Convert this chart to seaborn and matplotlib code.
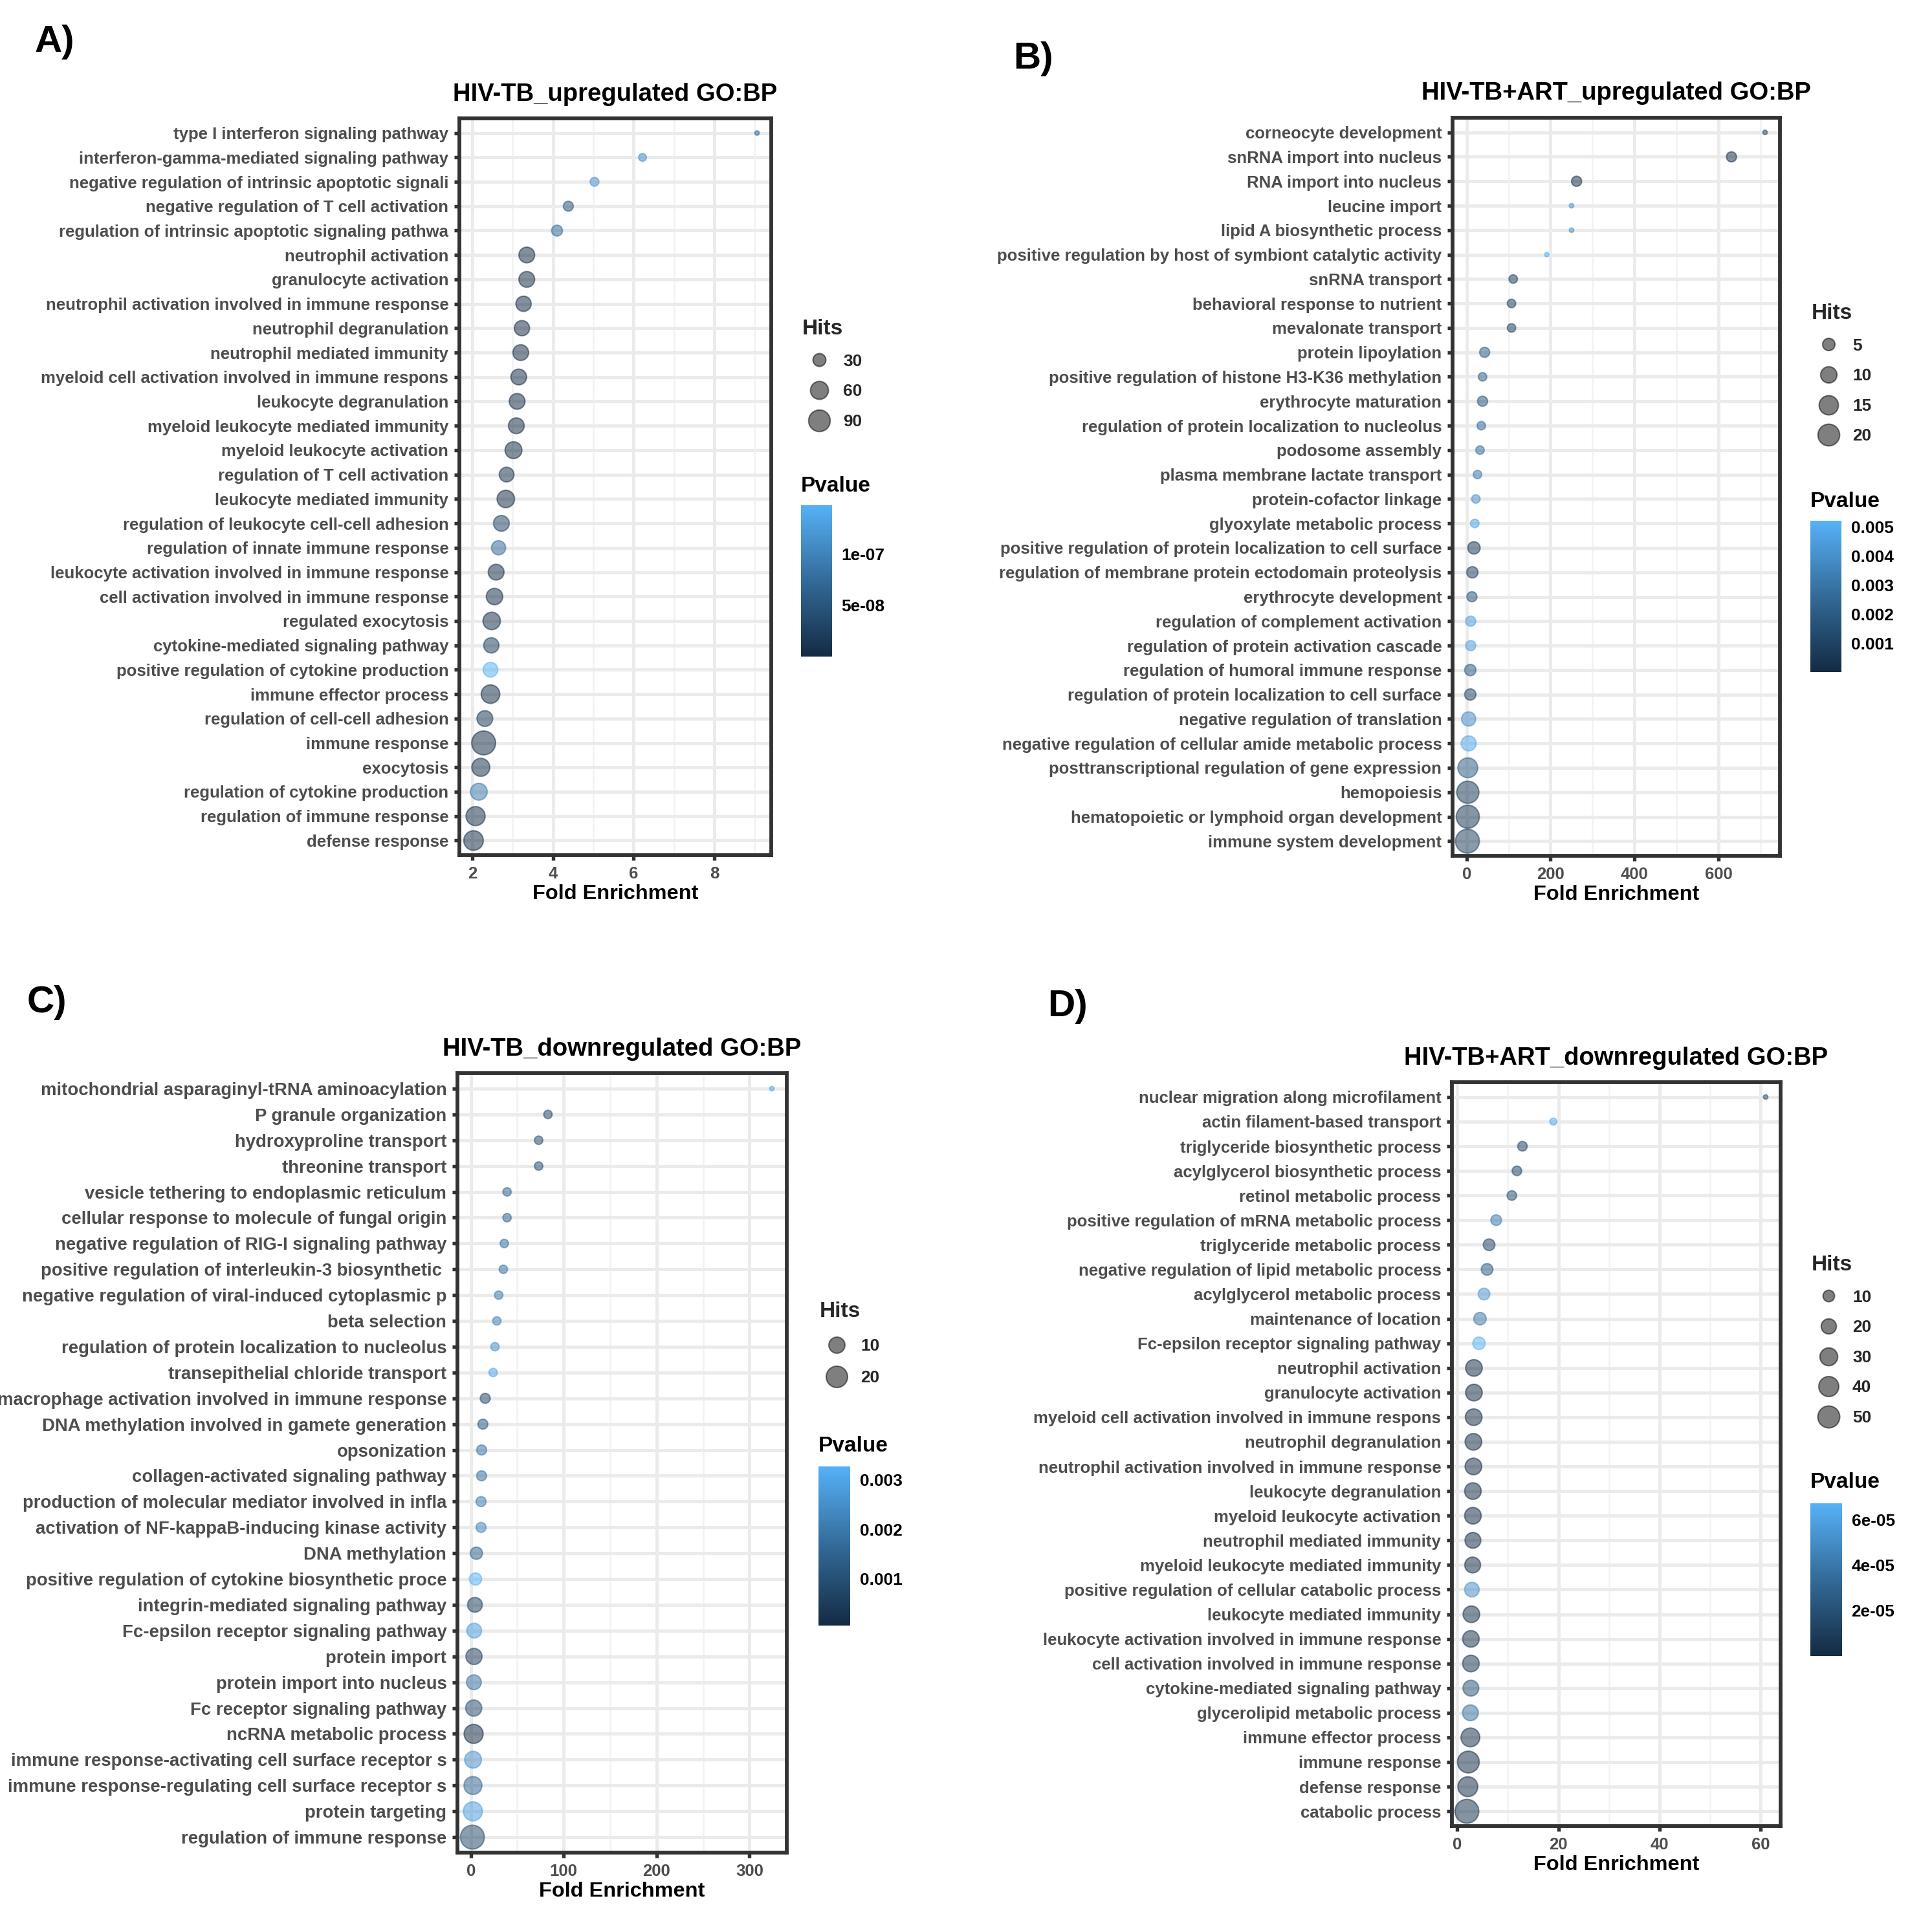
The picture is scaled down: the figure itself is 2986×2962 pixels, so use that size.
import numpy as np
import pandas as pd
import matplotlib
matplotlib.use('Agg')
import matplotlib.pyplot as plt
import seaborn as sns
from matplotlib.colors import LinearSegmentedColormap, Normalize
from matplotlib.lines import Line2D
from matplotlib.ticker import FixedLocator

sns.set_theme(style='white')
plt.rcParams['font.family'] = ['Liberation Sans', 'DejaVu Sans']
plt.rcParams['font.weight'] = 'bold'

# ---------------- data ----------------
a_terms = ['type I interferon signaling pathway', 'interferon-gamma-mediated signaling pathway',
           'negative regulation of intrinsic apoptotic signali', 'negative regulation of T cell activation',
           'regulation of intrinsic apoptotic signaling pathwa', 'neutrophil activation',
           'granulocyte activation', 'neutrophil activation involved in immune response',
           'neutrophil degranulation', 'neutrophil mediated immunity',
           'myeloid cell activation involved in immune respons', 'leukocyte degranulation',
           'myeloid leukocyte mediated immunity', 'myeloid leukocyte activation',
           'regulation of T cell activation', 'leukocyte mediated immunity',
           'regulation of leukocyte cell-cell adhesion', 'regulation of innate immune response',
           'leukocyte activation involved in immune response', 'cell activation involved in immune response',
           'regulated exocytosis', 'cytokine-mediated signaling pathway',
           'positive regulation of cytokine production', 'immune effector process',
           'regulation of cell-cell adhesion', 'immune response', 'exocytosis',
           'regulation of cytokine production', 'regulation of immune response', 'defense response']
a_fold = [9.06, 6.22, 5.03, 4.38, 4.10, 3.35, 3.35, 3.27, 3.23, 3.20, 3.15, 3.11, 3.09, 3.02, 2.85,
          2.83, 2.72, 2.65, 2.59, 2.55, 2.48, 2.47, 2.45, 2.45, 2.31, 2.28, 2.21, 2.16, 2.08, 2.03]
a_hits = [11, 14, 16, 19, 22, 45, 45, 42, 42, 45, 45, 45, 45, 52, 39, 56, 45, 36, 45, 49,
          56, 42, 39, 64, 45, 112, 60, 52, 68, 72]
a_pval = [7.0e-8, 1.1e-7, 1.15e-7, 4.5e-8, 7.0e-8, 1e-11, 1e-11, 2e-11, 2e-11, 2e-11,
          3e-11, 4e-11, 4e-11, 4e-11, 1.0e-8, 1e-10, 2.5e-8, 7.0e-8, 2e-9, 3e-9,
          3e-9, 2.0e-8, 1.48e-7, 1e-9, 1.5e-8, 1e-13, 5e-9, 9.0e-8, 3e-9, 2e-10]

b_terms = ['corneocyte development', 'snRNA import into nucleus', 'RNA import into nucleus',
           'leucine import', 'lipid A biosynthetic process',
           'positive regulation by host of symbiont catalytic activity', 'snRNA transport',
           'behavioral response to nutrient', 'mevalonate transport', 'protein lipoylation',
           'positive regulation of histone H3-K36 methylation', 'erythrocyte maturation',
           'regulation of protein localization to nucleolus', 'podosome assembly',
           'plasma membrane lactate transport', 'protein-cofactor linkage', 'glyoxylate metabolic process',
           'positive regulation of protein localization to cell surface',
           'regulation of membrane protein ectodomain proteolysis', 'erythrocyte development',
           'regulation of complement activation', 'regulation of protein activation cascade',
           'regulation of humoral immune response', 'regulation of protein localization to cell surface',
           'negative regulation of translation', 'negative regulation of cellular amide metabolic process',
           'posttranscriptional regulation of gene expression', 'hemopoiesis',
           'hematopoietic or lymphoid organ development', 'immune system development']
b_fold = [711, 631, 262, 250, 250, 191, 111, 107, 107, 43, 38, 38, 35, 32, 26, 22, 19.5, 17.5,
          13.7, 12.7, 9.8, 9.8, 8.8, 8.8, 4.9, 4.9, 2.9, 2.9, 2.9, 2.0]
b_hits = [1, 3, 3, 1, 1, 1, 2, 2, 2, 3, 2, 3, 2, 2, 2, 2, 2, 5, 4, 3, 3, 3, 4, 4, 7, 8, 16, 21, 23, 25]
b_pval = [0.0012, 0.0002, 0.00002, 0.0040, 0.0040, 0.00522, 0.0008, 0.0008, 0.0008, 0.0020,
          0.0022, 0.0016, 0.0025, 0.0027, 0.0032, 0.0040, 0.0046, 0.0006, 0.0008, 0.0016,
          0.0045, 0.0046, 0.0018, 0.0010, 0.0038, 0.0048, 0.0020, 0.0006, 0.0005, 0.0008]

c_terms = ['mitochondrial asparaginyl-tRNA aminoacylation', 'P granule organization',
           'hydroxyproline transport', 'threonine transport', 'vesicle tethering to endoplasmic reticulum',
           'cellular response to molecule of fungal origin', 'negative regulation of RIG-I signaling pathway',
           'positive regulation of interleukin-3 biosynthetic ',
           'negative regulation of viral-induced cytoplasmic p', 'beta selection',
           'regulation of protein localization to nucleolus', 'transepithelial chloride transport',
           'macrophage activation involved in immune response', 'DNA methylation involved in gamete generation',
           'opsonization', 'collagen-activated signaling pathway',
           'production of molecular mediator involved in infla',
           'activation of NF-kappaB-inducing kinase activity', 'DNA methylation',
           'positive regulation of cytokine biosynthetic proce', 'integrin-mediated signaling pathway',
           'Fc-epsilon receptor signaling pathway', 'protein import', 'protein import into nucleus',
           'Fc receptor signaling pathway', 'ncRNA metabolic process',
           'immune response-activating cell surface receptor s',
           'immune response-regulating cell surface receptor s', 'protein targeting',
           'regulation of immune response']
c_fold = [324, 83, 73, 73, 39, 39, 36, 35, 30, 28, 26, 24, 15.5, 13, 11.6, 11.6, 11, 11, 6, 5,
          4.4, 3.6, 3.4, 3.3, 3.1, 3.0, 2.4, 2.3, 2.2, 1.7]
c_hits = [1, 2, 2, 2, 2, 2, 2, 2, 2, 2, 2, 2, 3, 3, 3, 3, 3, 3, 5, 5, 8, 8, 10, 8, 10, 15, 11, 13, 15, 26]
c_pval = [0.0030, 0.0008, 0.0009, 0.0009, 0.0015, 0.0015, 0.0018, 0.0018, 0.0020, 0.0022,
          0.0026, 0.0030, 0.0008, 0.0012, 0.0018, 0.0018, 0.0020, 0.0022, 0.0014, 0.00327,
          0.0006, 0.0028, 0.0005, 0.0018, 0.0009, 0.00005, 0.0025, 0.0015, 0.0028, 0.0008]

d_terms = ['nuclear migration along microfilament', 'actin filament-based transport',
           'triglyceride biosynthetic process', 'acylglycerol biosynthetic process',
           'retinol metabolic process', 'positive regulation of mRNA metabolic process',
           'triglyceride metabolic process', 'negative regulation of lipid metabolic process',
           'acylglycerol metabolic process', 'maintenance of location',
           'Fc-epsilon receptor signaling pathway', 'neutrophil activation', 'granulocyte activation',
           'myeloid cell activation involved in immune respons', 'neutrophil degranulation',
           'neutrophil activation involved in immune response', 'leukocyte degranulation',
           'myeloid leukocyte activation', 'neutrophil mediated immunity',
           'myeloid leukocyte mediated immunity', 'positive regulation of cellular catabolic process',
           'leukocyte mediated immunity', 'leukocyte activation involved in immune response',
           'cell activation involved in immune response', 'cytokine-mediated signaling pathway',
           'glycerolipid metabolic process', 'immune effector process', 'immune response',
           'defense response', 'catabolic process']
d_fold = [61, 19, 12.9, 11.8, 10.8, 7.7, 6.3, 5.9, 5.3, 4.5, 4.3, 3.3, 3.3, 3.25, 3.2, 3.2, 3.1,
          3.1, 3.1, 3.05, 2.9, 2.8, 2.7, 2.7, 2.7, 2.6, 2.6, 2.2, 2.1, 1.9]
d_hits = [2, 3, 6, 6, 6, 8, 10, 10, 10, 12, 12, 25, 25, 25, 25, 25, 25, 25, 22, 22, 18, 25, 25, 25,
          22, 22, 34, 49, 39, 61]
d_pval = [2.0e-5, 6.4e-5, 1.2e-5, 1.3e-5, 1.8e-5, 4.0e-5, 1.2e-5, 2.4e-5, 5.4e-5, 4.0e-5,
          6.72e-5, 1e-8, 1e-8, 1e-8, 1e-8, 1e-8, 1e-8, 2e-8, 2e-8, 3e-8,
          5.0e-5, 2e-6, 4e-6, 5e-6, 2.0e-5, 3.6e-5, 3e-6, 1e-10, 5e-7, 3e-6]

# ---------------- layout (pixels) ----------------
DPI = 300
W, H = 2986, 2962
EDGE_LW = 0.5
DMIN, DMAX = 9.0, 39.0

cmap = LinearSegmentedColormap.from_list('gg', ['#132B43', '#336A98', '#56B1F7'])

fig = plt.figure(figsize=(W / DPI, H / DPI), dpi=DPI)
fig.patch.set_facecolor('white')


def size_area(v, vmin, vmax):
    t = (float(v) - vmin) / (vmax - vmin)
    d = DMIN + (DMAX - DMIN) * np.sqrt(max(t, 0.0))
    d = d - EDGE_LW * DPI / 72
    return (d * 72 / DPI) ** 2


def draw_panel(terms, fold, hits, pval, box, title, letter, letter_xy, xticks, xminor,
               breaks, leg_xy, cbar_box, pv_y, cticks, clabels, ylab_size=6.2, leg_space=0.86):
    left, top, right, bottom = box
    ax = fig.add_axes([left / W, 1 - bottom / H, (right - left) / W, (bottom - top) / H])
    df = pd.DataFrame({'Term': terms, 'Fold': fold, 'Hits': hits, 'Pvalue': pval})
    lo, hi = min(hits), max(hits)
    sizes = {h: size_area(h, lo, hi) for h in sorted(set(hits))}
    pnorm = (min(pval), max(pval))
    sns.scatterplot(data=df, x='Fold', y='Term', size='Hits', sizes=sizes, hue='Pvalue',
                    palette=cmap, hue_norm=pnorm, alpha=0.52, edgecolor='face',
                    linewidth=EDGE_LW, legend=False, ax=ax, zorder=3)
    n = len(terms)
    pad = 0.05 * (max(fold) - min(fold))
    ax.set_xlim(min(fold) - pad, max(fold) + pad)
    ax.set_ylim(n - 1 + 0.6, -0.6)
    ax.set_xticks(xticks)
    ax.xaxis.set_minor_locator(FixedLocator(xminor))
    ax.set_axisbelow(True)
    ax.grid(True, which='major', color='#EBEBEB', linewidth=1.2)
    ax.grid(True, which='minor', axis='x', color='#F2F2F2', linewidth=0.6)
    for s in ax.spines.values():
        s.set_color('#333333')
        s.set_linewidth(1.4)
    ax.tick_params(axis='both', which='major', length=2, width=1.3, color='#333333',
                   labelsize=6.2, labelcolor='#4D4D4D', pad=2, left=True, bottom=True)
    ax.tick_params(axis='y', labelsize=ylab_size)
    ax.tick_params(axis='x', which='minor', length=0)
    ax.set_ylabel('')
    ax.set_xlabel('Fold Enrichment', fontsize=7.8, fontweight='bold', color='black', labelpad=1)
    ax.set_title(title, fontsize=9.2, fontweight='bold', color='black', pad=6.6)
    fig.text(letter_xy[0] / W, 1 - letter_xy[1] / H, letter, fontsize=14, fontweight='bold',
             ha='left', va='center', color='black')

    handles = [Line2D([], [], ls='', marker='o', markersize=np.sqrt(size_area(b, lo, hi)),
                      markerfacecolor=(0, 0, 0, 0.5), markeredgecolor=(0, 0, 0, 0.5),
                      markeredgewidth=EDGE_LW) for b in breaks]
    fig.legend(handles, [str(b) for b in breaks], title='Hits', loc='upper left',
               bbox_to_anchor=(leg_xy[0] / W, 1 - leg_xy[1] / H), frameon=False,
               prop={'size': 6.3, 'weight': 'bold'},
               title_fontproperties={'size': 8, 'weight': 'bold'}, labelspacing=leg_space,
               handletextpad=0.4, borderpad=0, borderaxespad=0, alignment='left',
               handlelength=2.0)

    cl, ct, cr, cbm = cbar_box
    cax = fig.add_axes([cl / W, 1 - cbm / H, (cr - cl) / W, (cbm - ct) / H])
    sm = plt.cm.ScalarMappable(norm=Normalize(*pnorm), cmap=cmap)
    cb = fig.colorbar(sm, cax=cax)
    cb.outline.set_visible(False)
    cb.set_ticks(cticks)
    cb.set_ticklabels(clabels)
    cax.tick_params(axis='y', direction='in', length=2.4, width=0.5, color='white',
                    left=True, right=True, labelleft=False, labelright=True,
                    labelsize=6.3, labelcolor='black', pad=3.5)
    fig.text(cl / W, 1 - pv_y / H, 'Pvalue', fontsize=8, fontweight='bold', ha='left',
             va='center', color='black')
    return ax


draw_panel(a_terms, a_fold, a_hits, a_pval, (710, 183, 1192, 1322), 'HIV-TB_upregulated GO:BP',
           'A)', (54, 65), [2, 4, 6, 8], [3, 5, 7, 9], [30, 60, 90], (1240, 493),
           (1238, 781, 1286, 1015), 752, [5e-8, 1e-7], ['5e-08', '1e-07'])
draw_panel(b_terms, b_fold, b_hits, b_pval, (2245, 182, 2751, 1323), 'HIV-TB+ART_upregulated GO:BP',
           'B)', (1566, 91), [0, 200, 400, 600], [100, 300, 500, 700], [5, 10, 15, 20], (2800, 469),
           (2798, 805, 2846, 1039), 776, [0.001, 0.002, 0.003, 0.004, 0.005],
           ['0.001', '0.002', '0.003', '0.004', '0.005'])
draw_panel(c_terms, c_fold, c_hits, c_pval, (707, 1659, 1216, 2864), 'HIV-TB_downregulated GO:BP',
           'C)', (42, 1550), [0, 100, 200, 300], [50, 150, 250], [10, 20], (1267, 2012),
           (1265, 2267, 1314, 2513), 2235, [0.001, 0.002, 0.003], ['0.001', '0.002', '0.003'],
           ylab_size=6.6, leg_space=0.98)
draw_panel(d_terms, d_fold, d_hits, d_pval, (2244, 1673, 2752, 2823), 'HIV-TB+ART_downregulated GO:BP',
           'D)', (1619, 1556), [0, 20, 40, 60], [10, 30, 50], [10, 20, 30, 40, 50], (2800, 1940),
           (2798, 2324, 2847, 2560), 2292, [2e-5, 4e-5, 6e-5], ['2e-05', '4e-05', '6e-05'])

fig.savefig('out.png', dpi=DPI, facecolor='white')
